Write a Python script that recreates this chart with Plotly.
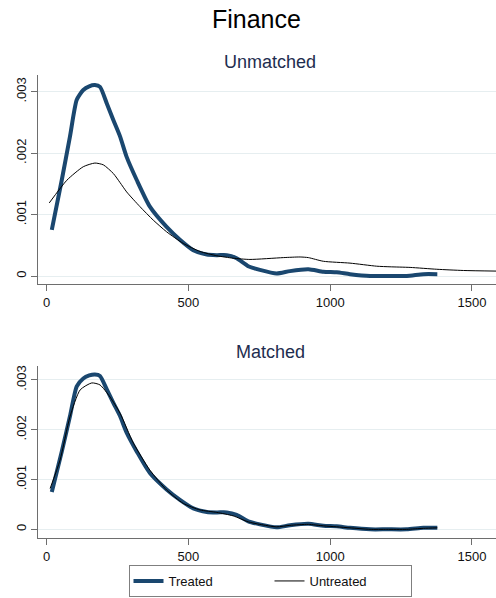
import plotly.graph_objects as go

# ---- data ----
treated_x = [18, 53, 82, 106, 129, 150, 170, 188, 212, 235, 259, 282, 318, 364, 423, 470, 517, 565, 600, 635, 670, 711, 752, 811, 858, 923, 976, 1023, 1070, 1141, 1200, 1270, 1329, 1378]
treated_y = [0.00075, 0.00156, 0.00227, 0.00287, 0.00303, 0.00309, 0.00311, 0.00308, 0.00281, 0.00254, 0.00227, 0.00194, 0.00156, 0.00113, 0.0008, 0.00059, 0.00042, 0.00035, 0.00034, 0.00034, 0.00029, 0.00016, 0.0001, 0.00004, 0.00008, 0.00011, 0.00007, 0.00006, 0.00003, 0.0, 0.0, 0.0, 0.00003, 0.00003]

untreated_unm_x = [9, 71, 129, 170, 200, 235, 259, 282, 329, 376, 423, 482, 541, 600, 658, 717, 835, 894, 923, 976, 1070, 1164, 1211, 1282, 1376, 1470, 1590]
untreated_unm_y = [0.00119, 0.00156, 0.00178, 0.00184, 0.00181, 0.00167, 0.00152, 0.00137, 0.00113, 0.00091, 0.00072, 0.00053, 0.0004, 0.00033, 0.00029, 0.00027, 0.0003, 0.00031, 0.0003, 0.00024, 0.00021, 0.00016, 0.00015, 0.00014, 0.00011, 0.00009, 0.00008]

untreated_m_x = [12, 47, 82, 118, 159, 188, 223, 259, 306, 364, 423, 482, 541, 600, 658, 711, 752, 811, 858, 923, 976, 1023, 1070, 1141, 1200, 1270, 1329, 1378]
untreated_m_y = [0.00082, 0.00139, 0.00226, 0.0028, 0.00294, 0.0029, 0.00266, 0.00233, 0.00173, 0.00119, 0.00079, 0.00052, 0.00039, 0.00034, 0.00027, 0.00015, 0.0001, 0.00005, 0.00008, 0.0001, 0.00007, 0.00005, 0.00003, 0.0, 0.0, 0.0, 0.00002, 0.00003]

x_ticks = [0, 500, 1000, 1500]
x_tick_text = ["0", "500", "1000", "1500"]
y_ticks = [0, 0.001, 0.002, 0.003]
y_tick_text = ["0", ".001", ".002", ".003"]

main_title = "Finance"
panel_titles = ["Unmatched", "Matched"]
series_names = ["Treated", "Untreated"]

TREAT_COLOR = "#1a476f"
UNTREAT_COLOR = "#000000"
FONT = "Liberation Sans, Arial, Helvetica, sans-serif"

W, H = 496, 598

fig = go.Figure()

fig.add_trace(go.Scatter(x=treated_x, y=treated_y, mode="lines", name=series_names[0],
                         line=dict(color=TREAT_COLOR, width=4, shape="spline", smoothing=0.6),
                         xaxis="x", yaxis="y", legendgroup="t"))
fig.add_trace(go.Scatter(x=untreated_unm_x, y=untreated_unm_y, mode="lines", name=series_names[1],
                         line=dict(color=UNTREAT_COLOR, width=1, shape="spline", smoothing=0.6),
                         xaxis="x", yaxis="y", legendgroup="u"))
fig.add_trace(go.Scatter(x=treated_x, y=treated_y, mode="lines", name=series_names[0],
                         line=dict(color=TREAT_COLOR, width=4, shape="spline", smoothing=0.6),
                         xaxis="x2", yaxis="y2", legendgroup="t", showlegend=False))
fig.add_trace(go.Scatter(x=untreated_m_x, y=untreated_m_y, mode="lines", name=series_names[1],
                         line=dict(color=UNTREAT_COLOR, width=1, shape="spline", smoothing=0.6),
                         xaxis="x2", yaxis="y2", legendgroup="u", showlegend=False))


def px_x(p):
    return p / W


def px_y(p):
    return 1 - p / H


x_dom = [px_x(38), 1.0]
xr = [-30.7, 1585]

common_x = dict(range=xr, tickvals=x_ticks, ticktext=x_tick_text, showgrid=False, zeroline=False,
                showline=True, linecolor="#6e6e6e", linewidth=1, ticks="outside", ticklen=6,
                tickcolor="#6e6e6e", automargin=False,
                tickfont=dict(size=13, color="#111111", family=FONT))
common_y = dict(tickvals=y_ticks, ticktext=y_tick_text, showgrid=True, gridcolor="#e6eef0",
                gridwidth=1, zeroline=False, showline=True, linecolor="#6e6e6e", linewidth=1,
                ticks="outside", ticklen=6, tickcolor="#6e6e6e", tickangle=-90, automargin=False,
                tickfont=dict(size=13, color="#111111", family=FONT))

fig.update_layout(
    width=W, height=H,
    margin=dict(l=0, r=0, t=0, b=0, autoexpand=False),
    paper_bgcolor="white", plot_bgcolor="white",
    font=dict(family=FONT),
    xaxis=dict(domain=x_dom, anchor="y", **common_x),
    yaxis=dict(domain=[px_y(284), px_y(75)], anchor="x", range=[-0.00013, 0.003274], **common_y),
    xaxis2=dict(domain=x_dom, anchor="y2", **common_x),
    yaxis2=dict(domain=[px_y(538.3), px_y(366)], anchor="x2", range=[-0.00018, 0.00328], **common_y),
    title=dict(text=main_title, x=0.517, xanchor="center", y=px_y(19), yanchor="middle",
               font=dict(size=25, color="#000000", family=FONT)),
    showlegend=True,
    legend=dict(orientation="h", x=270 / W, xanchor="center", y=px_y(597), yanchor="bottom",
                bordercolor="#7f7f7f", borderwidth=1, bgcolor="white",
                font=dict(size=13, color="#111111", family=FONT),
                entrywidth=96, entrywidthmode="pixels", tracegroupgap=0),
    annotations=[
        dict(text=panel_titles[0], x=270 / W, y=px_y(62), xref="paper", yref="paper",
             xanchor="center", yanchor="middle", showarrow=False,
             font=dict(size=18, color="#1e2d4f", family=FONT)),
        dict(text=panel_titles[1], x=270 / W, y=px_y(352), xref="paper", yref="paper",
             xanchor="center", yanchor="middle", showarrow=False,
             font=dict(size=18, color="#1e2d4f", family=FONT)),
    ],
)

fig.write_html("out.html", config={"displayModeBar": False},
               post_script="document.body.style.margin='0';document.body.style.overflow='hidden';")
